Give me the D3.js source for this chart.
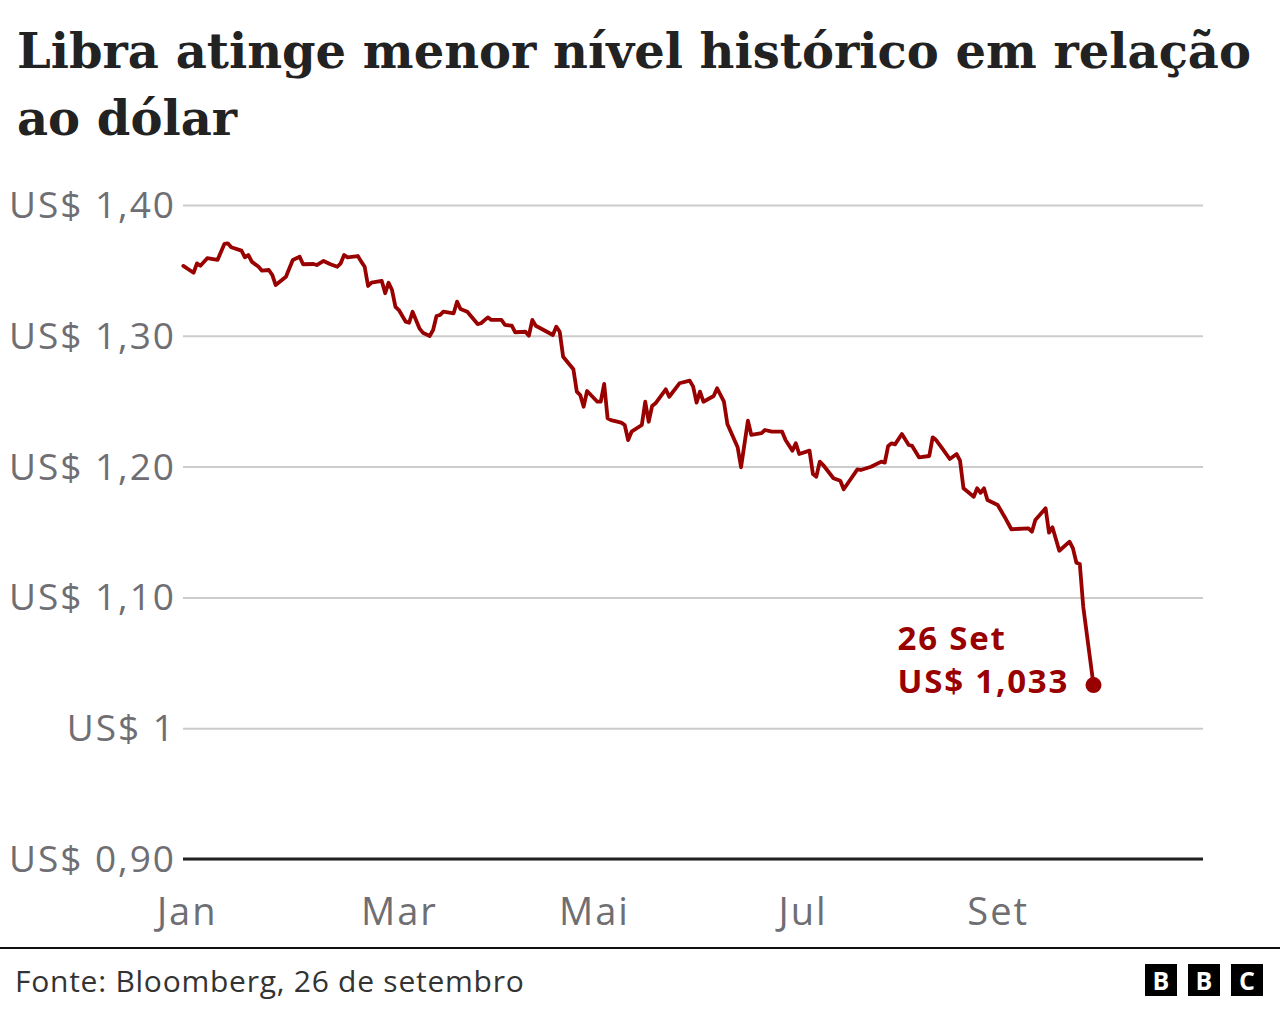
<!DOCTYPE html>
<html><head><meta charset="utf-8">
<script src="https://cdn.jsdelivr.net/npm/d3@7"></script>
<style>body{margin:0;background:#fff}svg{display:block}</style>
</head><body><svg id="c" width="1280" height="1010"></svg>
<script>
const titleLines = ["Libra atinge menor nível histórico em relação", "ao dólar"];
const sourceText = "Fonte: Bloomberg, 26 de setembro";
const startDate = new Date(2022, 0, 3);
const endDate = new Date(2022, 9, 28);
// days since 3 Jan 2022
const dayOffsets = [0,3,4,5,7,10,12,13,14,17,18,19,20,22,23,25,26,27,30,31,32,34,35,38,39,41,43,45,46,47,48,51,52,53,54,55,58,59,60,61,62,63,65,66,67,69,70,72,73,74,75,76,79,80,81,83,86,87,89,90,93,94,96,97,100,101,102,103,108,109,110,111,114,115,116,117,118,121,122,123,124,125,128,129,130,131,134,135,136,137,138,141,142,145,148,149,150,151,152,155,156,158,159,162,163,165,166,169,170,172,175,176,178,179,180,183,184,185,186,187,190,192,193,197,198,201,204,205,206,207,208,210,212,213,215,218,219,220,222,224,226,227,228,231,232,233,234,235,238,240,242,247,248,249,252,253,254,256,259,260,261,262,263,266];
const rates = [1.3534,1.3482,1.3554,1.3536,1.3593,1.3580,1.3702,1.3707,1.3677,1.3651,1.3600,1.3618,1.3567,1.3528,1.3498,1.3503,1.3465,1.3388,1.3452,1.3516,1.3580,1.3605,1.3547,1.3549,1.3541,1.3572,1.3547,1.3528,1.3554,1.3618,1.3600,1.3610,1.3567,1.3528,1.3381,1.3406,1.3419,1.3325,1.3406,1.3350,1.3222,1.3197,1.3108,1.3100,1.3184,1.3057,1.3024,1.2999,1.3044,1.3151,1.3159,1.3184,1.3172,1.3261,1.3205,1.3184,1.3090,1.3096,1.3141,1.3121,1.3121,1.3083,1.3077,1.3027,1.3031,1.3001,1.3121,1.3077,1.3006,1.3070,1.3031,1.2840,1.2744,1.2573,1.2547,1.2458,1.2578,1.2496,1.2496,1.2632,1.2369,1.2356,1.2336,1.2318,1.2203,1.2267,1.2318,1.2496,1.2343,1.2463,1.2484,1.2591,1.2534,1.2637,1.2657,1.2611,1.2489,1.2573,1.2496,1.2540,1.2599,1.2496,1.2326,1.2148,1.1995,1.2351,1.2242,1.2255,1.2280,1.2267,1.2267,1.2203,1.2122,1.2178,1.2096,1.2122,1.1943,1.1923,1.2038,1.2012,1.1911,1.1892,1.1827,1.1979,1.1974,1.1999,1.2038,1.2030,1.2158,1.2178,1.2170,1.2249,1.2165,1.2158,1.2071,1.2081,1.2224,1.2203,1.2132,1.2058,1.2096,1.2045,1.1834,1.1770,1.1834,1.1800,1.1834,1.1745,1.1706,1.1617,1.1521,1.1528,1.1502,1.1592,1.1681,1.1495,1.1536,1.1357,1.1426,1.1375,1.1265,1.1255,1.0929,1.033];
const yTicks = [0.9, 1.0, 1.1, 1.2, 1.3, 1.4];
const yTickLabels = ["US$ 0,90", "US$ 1", "US$ 1,10", "US$ 1,20", "US$ 1,30", "US$ 1,40"];
const xTickDates = ["2022-01-04", "2022-03-07", "2022-05-03", "2022-07-03", "2022-08-29"];
const xTickLabels = ["Jan", "Mar", "Mai", "Jul", "Set"];
const annotationLines = ["26 Set", "US$ 1,033"];

const data = dayOffsets.map((d, i) => ({ date: d3.timeDay.offset(startDate, d), v: rates[i] }));
const svg = d3.select("#c");
const sans = "'Open Sans', 'Noto Sans', sans-serif";
const red = "#990000";

const x = d3.scaleTime().domain([startDate, endDate]).range([183.3, 1203]);
const y = d3.scaleLinear().domain([0.9, 1.4]).range([859, 205]);

// title
svg.append("g").selectAll("text").data(titleLines).join("text")
  .attr("x", 17).attr("y", (d, i) => 68 + i * 67)
  .attr("font-family", "'DejaVu Serif', serif").attr("font-weight", "bold")
  .attr("font-size", 48).attr("fill", "#222").text(d => d);

// y axis + gridlines
const yAxis = d3.axisLeft(y).tickValues(yTicks)
  .tickFormat((d, i) => yTickLabels[i]).tickSize(-(1203 - 183)).tickPadding(7);
const gy = svg.append("g").attr("transform", "translate(183,0)").call(yAxis);
gy.select(".domain").remove();
gy.selectAll(".tick line").attr("stroke", "#cccccc").attr("stroke-width", 2);
gy.selectAll(".tick text").attr("font-family", sans).attr("font-size", 37)
  .attr("letter-spacing", 2).attr("fill", "#6e6e73").attr("dy", "0.34em");

// baseline
svg.append("line").attr("x1", 183).attr("x2", 1203).attr("y1", y(0.9)).attr("y2", y(0.9))
  .attr("stroke", "#222").attr("stroke-width", 3);

// x axis
const xAxis = d3.axisBottom(x).tickValues(xTickDates.map(s => d3.timeParse("%Y-%m-%d")(s)))
  .tickFormat((d, i) => xTickLabels[i]).tickSize(0).tickPadding(0);
const gx = svg.append("g").attr("transform", `translate(0,${y(0.9)})`).call(xAxis);
gx.select(".domain").remove();
gx.selectAll(".tick text").attr("font-family", sans).attr("font-size", 38)
  .attr("letter-spacing", 2).attr("fill", "#6e6e73").attr("y", 66).attr("dy", 0);

// line
svg.append("path").datum(data)
  .attr("d", d3.line().x(d => x(d.date)).y(d => y(d.v)))
  .attr("fill", "none").attr("stroke", red).attr("stroke-width", 3.8)
  .attr("stroke-linejoin", "round").attr("stroke-linecap", "round");

const last = data[data.length - 1];
svg.append("circle").attr("cx", x(last.date)).attr("cy", y(last.v)).attr("r", 8).attr("fill", red);

svg.append("g").selectAll("text").data(annotationLines).join("text")
  .attr("x", x(last.date) - 196).attr("y", (d, i) => y(last.v) - 35 + i * 43)
  .attr("font-family", sans).attr("font-weight", "bold").attr("font-size", 33)
  .attr("letter-spacing", 1.8).attr("fill", red).text(d => d);

// footer
svg.append("line").attr("x1", 0).attr("x2", 1280).attr("y1", 948).attr("y2", 948)
  .attr("stroke", "#111").attr("stroke-width", 2);
svg.append("text").attr("x", 15).attr("y", 992).attr("font-family", sans)
  .attr("font-size", 30).attr("letter-spacing", 0.75).attr("fill", "#333").text(sourceText);

const logo = svg.append("g").attr("transform", "translate(1145,964)");
["B", "B", "C"].forEach((l, i) => {
  logo.append("rect").attr("x", i * 43).attr("y", 0).attr("width", 32).attr("height", 32).attr("fill", "#000");
  logo.append("text").attr("x", i * 43 + 16).attr("y", 26).attr("text-anchor", "middle")
    .attr("font-family", sans).attr("font-weight", "bold").attr("font-size", 25).attr("fill", "#fff").text(l);
});
</script></body></html>
